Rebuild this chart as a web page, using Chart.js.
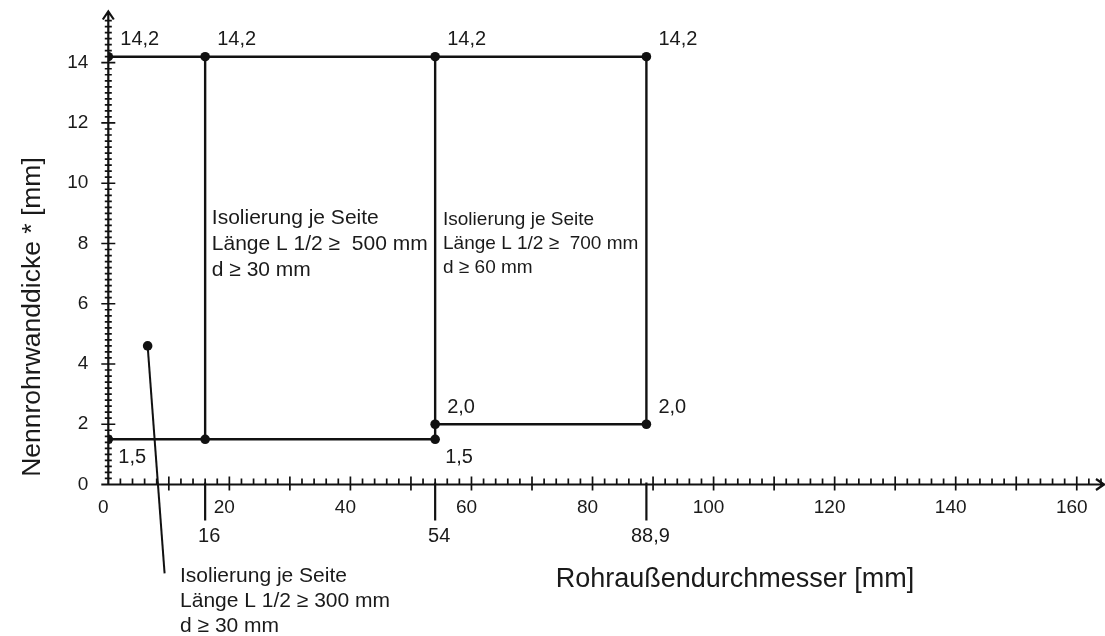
<!DOCTYPE html>
<html>
<head>
<meta charset="utf-8">
<script src="https://cdn.jsdelivr.net/npm/chart.js@4"></script>
<style>
  html, body { margin: 0; padding: 0; background: #fff; }
  canvas { display: block; }
</style>
</head>
<body>
<canvas id="wallChart" width="1105" height="636"></canvas>
<script>
// outer frame of the diagram (Rohraussendurchmesser / Nennrohrwanddicke)
const topX = [0, 16, 54, 88.9];
const topY = [14.2, 14.2, 14.2, 14.2];
const lowX = [0, 16, 54];
const lowY = [1.5, 1.5, 1.5];
const stepX = [54, 88.9];
const stepY = [2.0, 2.0];
const wallX = [16, 54, 88.9];
const wallBottom = [1.5, 1.5, 2.0];
const wallTop = [14.2, 14.2, 14.2];
const leaderX = [6.5, 9.3];
const leaderY = [4.6, -2.95];

const markedX = [16, 54, 88.9];
const markedText = ["16", "54", "88,9"];

const tagX = [0, 16, 54, 88.9, 0, 54, 54, 88.9];
const tagY = [14.2, 14.2, 14.2, 14.2, 1.5, 1.5, 2.0, 2.0];
const tagText = ["14,2", "14,2", "14,2", "14,2", "1,5", "1,5", "2,0", "2,0"];
const tagBelow = [false, false, false, false, true, true, false, false];

const noteLeft = ["Isolierung je Seite", "Länge L 1/2 ≥ 300 mm", "d ≥ 30 mm"];
const noteMid = ["Isolierung je Seite", "Länge L 1/2 ≥  500 mm", "d ≥ 30 mm"];
const noteRight = ["Isolierung je Seite", "Länge L 1/2 ≥  700 mm", "d ≥ 60 mm"];

const xTitle = "Rohraußendurchmesser [mm]";
const yTitle = "Nennrohrwanddicke * [mm]";

const FONT = '"Liberation Sans", Arial, sans-serif';
const INK = "#111";

const pts = (xs, ys) => xs.map((v, i) => ({ x: v, y: ys[i] }));

const wallData = [];
wallX.forEach((v, i) => {
    wallData.push({ x: v, y: wallBottom[i] }, { x: v, y: wallTop[i] }, { x: v, y: null });
});

const decor = {
    id: "decor",
    beforeDatasetsDraw(chart) {
        const { ctx, scales: { x, y } } = chart;
        const x0 = x.getPixelForValue(0);
        const y0 = y.getPixelForValue(0);
        const right = chart.width - 1;
        const top = y.top;
        ctx.save();
        ctx.strokeStyle = INK;
        ctx.lineCap = "butt";

        // axes with open arrow heads
        ctx.lineWidth = 2.2;
        ctx.beginPath();
        ctx.moveTo(x0 - 7, y0);
        ctx.lineTo(right, y0);
        ctx.moveTo(x0, y0 + 1);
        ctx.lineTo(x0, top);
        ctx.moveTo(x0 - 5.5, top + 8);
        ctx.lineTo(x0, top);
        ctx.lineTo(x0 + 5.5, top + 8);
        ctx.moveTo(right - 8, y0 - 5.5);
        ctx.lineTo(right, y0);
        ctx.lineTo(right - 8, y0 + 5.5);
        ctx.stroke();

        // x ticks every 2, larger every 10
        ctx.lineWidth = 1.7;
        ctx.beginPath();
        for (let v = 2; v <= 164; v += 2) {
            const p = x.getPixelForValue(v);
            const major = v % 10 === 0;
            ctx.moveTo(p, y0 - (major ? 8 : 6));
            ctx.lineTo(p, y0 + (major ? 6 : 0));
        }
        // y ticks every 0.2, larger every 2
        for (let i = 1; i <= 77; i++) {
            const p = y.getPixelForValue(i / 5);
            const major = i % 10 === 0;
            const h = major ? 7 : 3.5;
            ctx.moveTo(x0 - h, p);
            ctx.lineTo(x0 + h, p);
        }
        ctx.stroke();

        // long marks under the axis
        ctx.lineWidth = 2.2;
        ctx.beginPath();
        markedX.forEach(v => {
            const p = x.getPixelForValue(v);
            ctx.moveTo(p, y0 - 2);
            ctx.lineTo(p, y0 + 36);
        });
        ctx.stroke();
        ctx.restore();
    },
    afterDatasetsDraw(chart) {
        const { ctx, scales: { x, y } } = chart;
        ctx.save();
        ctx.fillStyle = "#1a1a1a";
        ctx.textBaseline = "middle";

        ctx.font = "20px " + FONT;
        ctx.textAlign = "center";
        const y0 = y.getPixelForValue(0);
        markedX.forEach((v, i) => {
            ctx.fillText(markedText[i], x.getPixelForValue(v) + 4, y0 + 52);
        });

        ctx.textAlign = "left";
        tagText.forEach((t, i) => {
            const px = x.getPixelForValue(tagX[i]) + (tagBelow[i] ? 10 : 12);
            const py = y.getPixelForValue(tagY[i]) + (tagBelow[i] ? 18 : -17);
            ctx.fillText(t, px, py);
        });

        const block = (lines, vx, vy, size, lead) => {
            ctx.font = size + "px " + FONT;
            const px = x.getPixelForValue(vx);
            const py = y.getPixelForValue(vy);
            lines.forEach((l, i) => ctx.fillText(l, px, py + i * lead));
        };
        block(noteMid, 17.1, 8.85, 21, 26);
        block(noteRight, 55.3, 8.8, 19, 24);
        block(noteLeft, 11.85, -3.05, 21, 25);

        // axis titles
        ctx.font = "27px " + FONT;
        ctx.textAlign = "center";
        ctx.fillText(xTitle, 735, 580);
        ctx.font = "26.5px " + FONT;
        ctx.translate(33, 317);
        ctx.rotate(-Math.PI / 2);
        ctx.fillText(yTitle, 0, 0);
        ctx.restore();
    }
};

const lineSet = (data, extra) => Object.assign({
    data,
    showLine: true,
    borderColor: INK,
    backgroundColor: INK,
    borderWidth: 2.4,
    pointRadius: 4.8,
    pointHoverRadius: 4.8,
    pointBorderWidth: 0
}, extra);

const noPad = s => {
    s.paddingTop = 0;
    s.paddingBottom = 0;
    s.paddingLeft = 0;
    s.paddingRight = 0;
};

new Chart(document.getElementById("wallChart"), {
    type: "scatter",
    data: {
        datasets: [
            lineSet(wallData, { pointRadius: 0, spanGaps: false }),
            lineSet(pts(topX, topY)),
            lineSet(pts(lowX, lowY)),
            lineSet(pts(stepX, stepY)),
            lineSet(pts(leaderX, leaderY), { pointRadius: [4.8, 0], borderWidth: 2, clip: false })
        ]
    },
    plugins: [decor],
    options: {
        responsive: false,
        animation: false,
        events: [],
        layout: { autoPadding: false, padding: { top: 11.5, right: 1, left: 0, bottom: 0 } },
        plugins: { legend: { display: false }, tooltip: { enabled: false } },
        scales: {
            x: {
                type: "linear",
                min: 0,
                max: 164.5,
                afterFit: s => { s.height = 151.5; noPad(s); },
                grid: { display: false, drawTicks: false },
                border: { display: false },
                ticks: {
                    stepSize: 20,
                    includeBounds: false,
                    autoSkip: false,
                    maxRotation: 0,
                    padding: 12,
                    labelOffset: -5,
                    color: "#1a1a1a",
                    font: { family: FONT, size: 19 },
                    callback: v => String(v)
                }
            },
            y: {
                type: "linear",
                min: 0,
                max: 15.7,
                afterFit: s => { s.width = 108.3; noPad(s); },
                grid: { display: false, drawTicks: false },
                border: { display: false },
                ticks: {
                    stepSize: 2,
                    includeBounds: false,
                    autoSkip: false,
                    padding: 20,
                    color: "#1a1a1a",
                    font: { family: FONT, size: 19 },
                    callback: v => String(v)
                }
            }
        }
    }
});
</script>
</body>
</html>
